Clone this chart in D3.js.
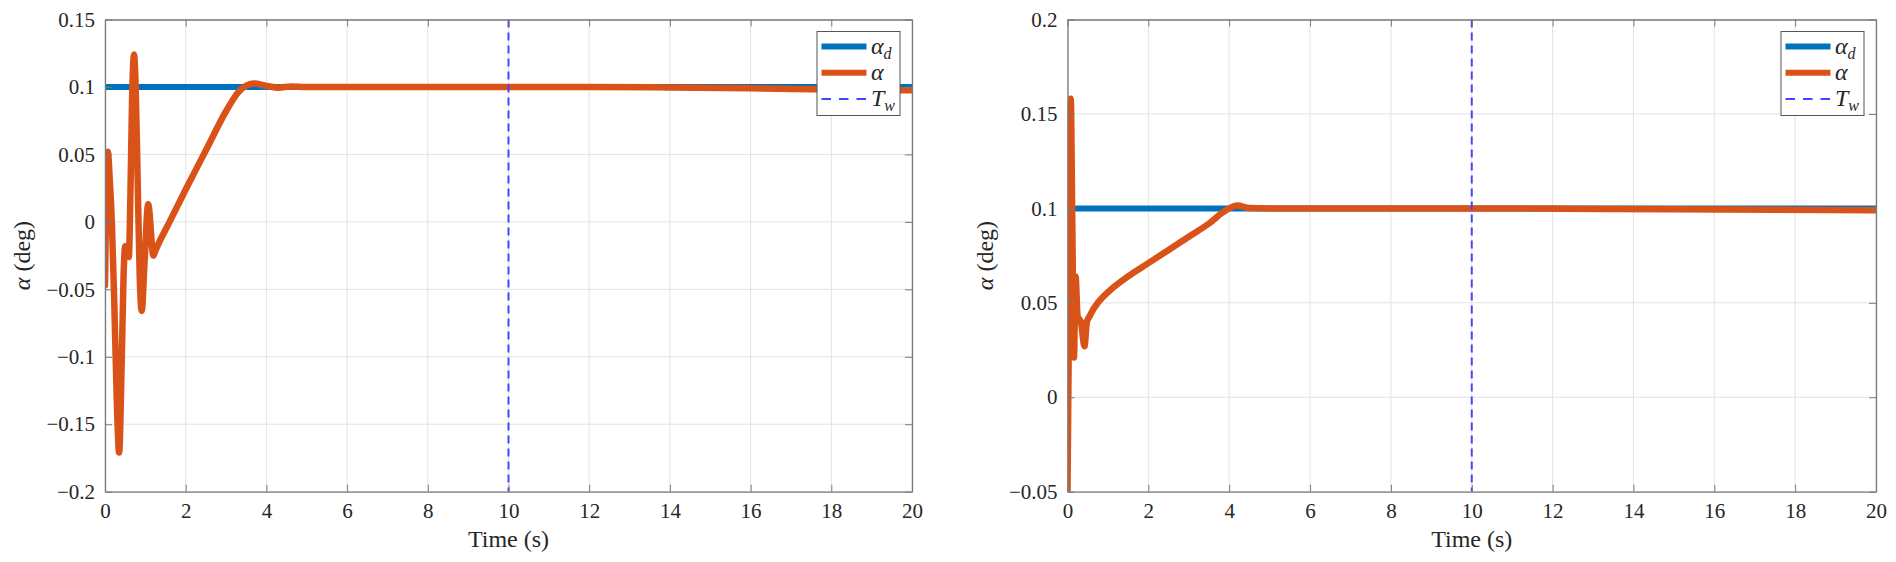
<!DOCTYPE html>
<html>
<head>
<meta charset="utf-8">
<script src="https://cdn.jsdelivr.net/npm/d3@7"></script>
<style>
  body { margin: 0; background: #fff; }
</style>
</head>
<body>
<div id="Canvas"></div>
<script>
// data
// left panel: alpha (deg) vs time (s)
const timeL  = [0, 0.03, 0.07, 0.12, 0.17, 0.23, 0.29, 0.35, 0.41, 0.46, 0.50, 0.55, 0.59, 0.63, 0.67, 0.72, 0.76, 0.81, 0.86, 0.91, 0.98, 1.07, 1.20, 1.24,
                1.6, 2.0, 2.5, 3.0, 3.3, 3.5, 3.7, 4.0, 4.3, 4.6, 5.0, 8, 12, 14, 16, 18, 20]
const alphaL = [-0.047, 0.02, 0.052, 0.03, 0.0, -0.06, -0.13, -0.171, -0.11, -0.04, -0.018, -0.02, -0.026, 0.02, 0.09, 0.124, 0.1, 0.03, -0.04, -0.066, -0.03, 0.013, -0.025, -0.022,
                0.0, 0.024, 0.053, 0.082, 0.096, 0.101, 0.1025, 0.1008, 0.0995, 0.1003, 0.1, 0.1, 0.1, 0.0996, 0.099, 0.0982, 0.0975]
// right panel
const timeR  = [0, 0.04, 0.08, 0.12, 0.16, 0.20, 0.25, 0.33, 0.42, 0.48, 0.55, 0.65, 0.75, 1.05, 1.5, 2.0, 2.5, 3.0, 3.5, 3.85, 4.0, 4.2, 4.5, 5.0, 10, 15, 20]
const alphaR = [-0.05, 0.05, 0.158, 0.09, 0.021, 0.064, 0.043, 0.04, 0.027, 0.04, 0.043, 0.047, 0.05, 0.0566, 0.064, 0.071, 0.078, 0.085, 0.092, 0.098, 0.1, 0.1015, 0.1002, 0.1, 0.1, 0.0995, 0.099]
const alphaD = 0.1
const Tw = 10
const xTicks  = [0, 2, 4, 6, 8, 10, 12, 14, 16, 18, 20]
const yTicksL = [-0.2, -0.15, -0.1, -0.05, 0, 0.05, 0.1, 0.15]
const yTicksR = [-0.05, 0, 0.05, 0.1, 0.15, 0.2]

const BLUE = "#0072BD", ORANGE = "#D95319", DASH = "#4444ff"
const FONT = "'Liberation Serif'"

let svg = d3.select("#Canvas")
    .append("svg")
    .attr("width", 1896)
    .attr("height", 562)

function fmt(v){
    return String(+v.toFixed(2)).replace("-", "\u2212")
}

function drawPanel(id, left, right, top, bottom, yDomain, yTicks, time, alpha){
    let xScale = d3.scaleLinear().domain([0, 20]).range([left, right])
    let yScale = d3.scaleLinear().domain(yDomain).range([bottom, top])
    let g = svg.append("g")

    // grid
    g.append("g").selectAll("line").data(xTicks).enter().append("line")
        .attr("x1", d => xScale(d)).attr("x2", d => xScale(d))
        .attr("y1", top).attr("y2", bottom)
        .style("stroke", "#e3e3e3").style("stroke-width", 1)
    g.append("g").selectAll("line").data(yTicks).enter().append("line")
        .attr("x1", left).attr("x2", right)
        .attr("y1", d => yScale(d)).attr("y2", d => yScale(d))
        .style("stroke", "#e3e3e3").style("stroke-width", 1)

    // clip
    svg.append("clipPath").attr("id", id)
        .append("rect").attr("x", left).attr("y", top)
        .attr("width", right - left).attr("height", bottom - top)

    let plot = g.append("g").attr("clip-path", "url(#" + id + ")")
    plot.append("line")
        .attr("x1", xScale(0)).attr("x2", xScale(20))
        .attr("y1", yScale(alphaD)).attr("y2", yScale(alphaD))
        .style("stroke", BLUE).style("stroke-width", 6)

    let line = d3.line()
        .x((d, i) => xScale(time[i]))
        .y(d => yScale(d))
        .curve(d3.curveMonotoneX)
    plot.append("path")
        .attr("d", line(alpha))
        .style("fill", "none").style("stroke", ORANGE)
        .style("stroke-width", 6.5).style("stroke-linejoin", "round").style("stroke-linecap", "round")

    plot.append("line")
        .attr("x1", xScale(Tw)).attr("x2", xScale(Tw))
        .attr("y1", top).attr("y2", bottom)
        .style("stroke", DASH).style("stroke-width", 2).style("stroke-dasharray", "8,5")

    // axes (box with ticks on every side)
    let axisColor = "#7a7a7a"
    let xAxisB = d3.axisBottom(xScale).tickValues(xTicks).tickSizeInner(-7).tickSizeOuter(0).tickFormat(d3.format("d"))
    let xAxisT = d3.axisTop(xScale).tickValues(xTicks).tickSizeInner(-7).tickSizeOuter(0).tickFormat("")
    let yAxisL = d3.axisLeft(yScale).tickValues(yTicks).tickSizeInner(-7).tickSizeOuter(0).tickFormat(fmt)
    let yAxisR = d3.axisRight(yScale).tickValues(yTicks).tickSizeInner(-7).tickSizeOuter(0).tickFormat("")

    let axes = [
        g.append("g").attr("transform", "translate(0," + bottom + ")").call(xAxisB),
        g.append("g").attr("transform", "translate(0," + top + ")").call(xAxisT),
        g.append("g").attr("transform", "translate(" + left + ",0)").call(yAxisL),
        g.append("g").attr("transform", "translate(" + right + ",0)").call(yAxisR)
    ]
    axes.forEach(a => {
        a.select(".domain").style("stroke", axisColor).style("stroke-width", 1.3)
        a.selectAll(".tick line").style("stroke", axisColor).style("stroke-width", 1)
        a.selectAll(".tick text").attr("fill", "#262626")
            .style("font-family", FONT).style("font-size", "21px")
    })
    axes[0].selectAll(".tick text").attr("dy", null).attr("y", 26)
    axes[2].selectAll(".tick text").attr("x", -10).attr("dy", "0.32em")

    // labels
    g.append("text")
        .attr("x", (left + right) / 2).attr("y", bottom + 55)
        .attr("text-anchor", "middle").attr("fill", "#262626")
        .style("font-family", FONT).style("font-size", "24px")
        .text("Time (s)")
    let yl = g.append("text")
        .attr("transform", "translate(" + (left - 75) + "," + ((top + bottom) / 2) + ") rotate(-90)")
        .attr("text-anchor", "middle").attr("fill", "#262626")
        .style("font-family", FONT).style("font-size", "24px")
    yl.append("tspan").style("font-style", "italic").text("\u03b1")
    yl.append("tspan").text(" (deg)")

    // legend
    let lx = right - 95, ly = top + 12
    let lg = g.append("g")
    lg.append("rect").attr("x", lx).attr("y", ly).attr("width", 83).attr("height", 84)
        .style("fill", "#fff").style("stroke", "#555").style("stroke-width", 1)
    let rows = [
        {color: BLUE, w: 6, dash: null, main: "\u03b1", sub: "d"},
        {color: ORANGE, w: 6, dash: null, main: "\u03b1", sub: ""},
        {color: DASH, w: 2, dash: "9.5,8", main: "T", sub: "w"}
    ]
    rows.forEach((r, i) => {
        let y = ly + 15 + i * 26.3
        lg.append("line").attr("x1", lx + 4.5).attr("x2", lx + 49.5)
            .attr("y1", y).attr("y2", y)
            .style("stroke", r.color).style("stroke-width", r.w)
            .style("stroke-dasharray", r.dash)
        let t = lg.append("text").attr("x", lx + 54).attr("y", y + 7).attr("fill", "#262626")
            .style("font-family", FONT).style("font-size", "24px").style("font-style", "italic")
        t.append("tspan").text(r.main)
        if(r.sub) t.append("tspan").attr("dy", 5).style("font-size", "16px").text(r.sub)
    })
}

drawPanel("clipL", 105, 912, 19.5, 491.7, [-0.2, 0.15], yTicksL, timeL, alphaL)
drawPanel("clipR", 1067.5, 1876, 19.5, 491.7, [-0.05, 0.2], yTicksR, timeR, alphaR)
</script>
</body>
</html>
